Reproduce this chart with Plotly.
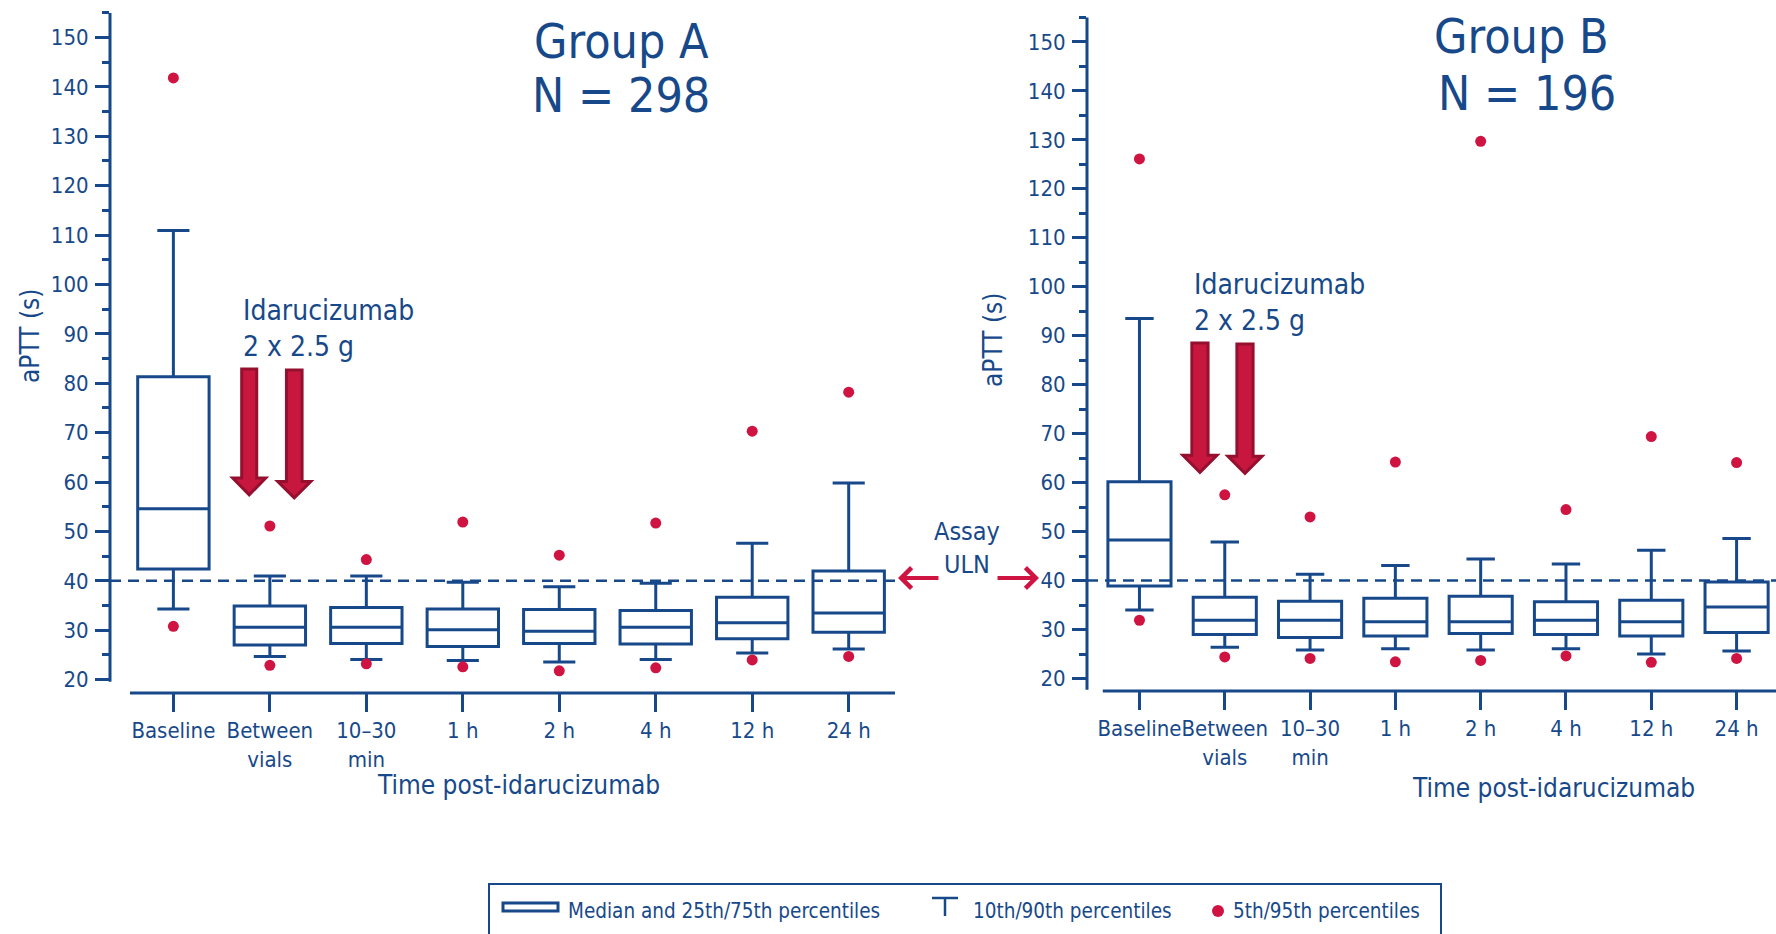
import plotly.graph_objects as go

# Sampling times after idarucizumab
categories = ["Baseline", "Between vials", "10–30 min", "1 h", "2 h", "4 h", "12 h", "24 h"]
tick_labels = ["Baseline", "Between<br>vials", "10–30<br>min", "1 h", "2 h", "4 h", "12 h", "24 h"]

# Group A (N = 298): aPTT percentiles (s)
a_p5 = [30.8, 22.9, 23.2, 22.6, 21.8, 22.4, 24.0, 24.7]
a_p10 = [34.3, 24.7, 24.1, 23.9, 23.6, 24.1, 25.4, 26.2]
a_q1 = [42.4, 27.0, 27.3, 26.7, 27.3, 27.2, 28.3, 29.6]
a_med = [54.6, 30.6, 30.6, 30.1, 29.8, 30.6, 31.5, 33.5]
a_q3 = [81.3, 34.9, 34.6, 34.3, 34.2, 34.0, 36.7, 42.0]
a_p90 = [110.9, 41.0, 41.0, 39.7, 38.8, 39.5, 47.6, 59.8]
a_p95 = [141.8, 51.1, 44.3, 51.9, 45.2, 51.7, 70.3, 78.2]

# Group B (N = 196): aPTT percentiles (s)
b_p5 = [31.9, 24.4, 24.1, 23.4, 23.7, 24.6, 23.3, 24.1]
b_p10 = [34.0, 26.4, 25.8, 26.1, 25.8, 26.1, 25.0, 25.6]
b_q1 = [38.9, 29.0, 28.4, 28.7, 29.2, 29.0, 28.7, 29.4]
b_med = [48.3, 31.9, 31.9, 31.6, 31.6, 31.9, 31.6, 34.6]
b_q3 = [60.2, 36.6, 35.8, 36.4, 36.8, 35.7, 36.0, 39.7]
b_p90 = [93.5, 47.9, 41.3, 43.1, 44.4, 43.4, 46.2, 48.6]
b_p95 = [126.1, 57.5, 53.0, 64.2, 129.7, 54.5, 69.4, 64.1]

# Assay upper limit of normal (s)
uln = 40

BLUE = "#17498a"
RED = "#cf1442"
ARROW_FILL = "#c8173f"
ARROW_EDGE = "#95102f"
FONT = "DejaVu Sans Condensed, DejaVu Sans, sans-serif"
W, H = 1776, 934


def px_x(px):
    return px / W


def px_y(py):
    return 1 - py / H


x_pos = list(range(len(categories)))

fig = go.Figure()

panels = [
    dict(ax="", q1=a_q1, med=a_med, q3=a_q3, lo=a_p10, hi=a_p90, p5=a_p5, p95=a_p95),
    dict(ax="2", q1=b_q1, med=b_med, q3=b_q3, lo=b_p10, hi=b_p90, p5=b_p5, p95=b_p95),
]

for p in panels:
    xa, ya = "x" + p["ax"], "y" + p["ax"]
    fig.add_trace(go.Box(
        x=x_pos, q1=p["q1"], median=p["med"], q3=p["q3"],
        lowerfence=p["lo"], upperfence=p["hi"],
        width=0.74, whiskerwidth=0.45, boxpoints=False,
        line=dict(color=BLUE, width=3), fillcolor="rgba(0,0,0,0)",
        xaxis=xa, yaxis=ya, showlegend=False, hoverinfo="skip",
    ))
    fig.add_trace(go.Scatter(
        x=x_pos + x_pos, y=p["p5"] + p["p95"], mode="markers",
        marker=dict(color=RED, size=11),
        xaxis=xa, yaxis=ya, showlegend=False, hoverinfo="skip",
    ))

yaxis_common = dict(
    tick0=20, dtick=10, ticks="outside", ticklen=14, tickwidth=3, tickcolor=BLUE,
    minor=dict(dtick=5, tick0=20, ticks="outside", ticklen=7, tickwidth=2.5, tickcolor=BLUE),
    showgrid=False, zeroline=False, showline=False,
    tickfont=dict(family=FONT, size=22, color=BLUE), ticklabelstandoff=2,
)
xaxis_common = dict(
    tickmode="array", tickvals=x_pos, ticktext=tick_labels, tickangle=0,
    ticks="outside", ticklen=18, tickwidth=3, tickcolor=BLUE,
    showgrid=False, zeroline=False, showline=False,
    tickfont=dict(family=FONT, size=22, color=BLUE),
)

fig.update_layout(
    width=W, height=H, margin=dict(l=0, r=0, t=0, b=0),
    paper_bgcolor="white", plot_bgcolor="white",
    xaxis=dict(xaxis_common, domain=[px_x(110), px_x(895)], range=[-0.657, 7.48], anchor="y"),
    yaxis=dict(yaxis_common, domain=[px_y(693), px_y(12.7)], range=[17.3, 155], anchor="x"),
    xaxis2=dict(xaxis_common, domain=[px_x(1087), 1.0], range=[-0.615, 7.462], anchor="y2"),
    yaxis2=dict(yaxis_common, domain=[px_y(691), px_y(16.9)], range=[17.45, 155.1], anchor="x2"),
)

shapes = []
# axis lines, detached from each other
for ax, y_bottom, x_start in [("", 19.6, -0.45), ("2", 17.7, -0.43)]:
    xa, ya = "x" + ax, "y" + ax
    shapes.append(dict(type="line", xref=f"{xa} domain", yref=ya, x0=0, x1=0,
                       y0=y_bottom, y1=155, line=dict(color=BLUE, width=3)))
    shapes.append(dict(type="line", xref=xa, yref=f"{ya} domain", x0=x_start, x1=7.6,
                       y0=0, y1=0, line=dict(color=BLUE, width=3)))
    shapes.append(dict(type="line", xref=f"{xa} domain", yref=ya, x0=0, x1=1.01,
                       y0=uln, y1=uln, layer="below",
                       line=dict(color=BLUE, width=2.5, dash="11px,7px")))


def down_arrow(xc, y_top, y_head, y_tip, half_shaft, half_head):
    return (f"M{xc - half_shaft},{y_top} L{xc + half_shaft},{y_top} "
            f"L{xc + half_shaft},{y_head} L{xc + half_head},{y_head} L{xc},{y_tip} "
            f"L{xc - half_head},{y_head} L{xc - half_shaft},{y_head} Z")


# idarucizumab dosing arrows (two vials)
dose_arrows = [
    ("", 0.786, 82.9, 60.8, 57.4, 0.078, 0.171),
    ("", 1.253, 82.7, 60.1, 56.8, 0.081, 0.171),
    ("2", 0.709, 88.5, 65.6, 62.1, 0.095, 0.200),
    ("2", 1.237, 88.3, 65.4, 61.9, 0.095, 0.200),
]
for ax, xc, yt, yh, ytip, hs, hh in dose_arrows:
    shapes.append(dict(type="path", xref="x" + ax, yref="y" + ax,
                       path=down_arrow(xc, yt, yh, ytip, hs, hh),
                       fillcolor=ARROW_FILL, line=dict(color=ARROW_EDGE, width=3)))

# legend frame and symbols
shapes.append(dict(type="rect", xref="paper", yref="paper",
                   x0=px_x(489), x1=px_x(1441), y0=px_y(884), y1=px_y(960),
                   line=dict(color=BLUE, width=2)))
shapes.append(dict(type="rect", xref="paper", yref="paper",
                   x0=px_x(503), x1=px_x(558), y0=px_y(903), y1=px_y(911),
                   line=dict(color=BLUE, width=3)))
shapes.append(dict(type="line", xref="paper", yref="paper",
                   x0=px_x(932), x1=px_x(958), y0=px_y(898), y1=px_y(898),
                   line=dict(color=BLUE, width=2.5)))
shapes.append(dict(type="line", xref="paper", yref="paper",
                   x0=px_x(945), x1=px_x(945), y0=px_y(898), y1=px_y(916),
                   line=dict(color=BLUE, width=2.5)))
shapes.append(dict(type="circle", xref="paper", yref="paper",
                   x0=px_x(1212), x1=px_x(1224), y0=px_y(905), y1=px_y(917),
                   fillcolor=RED, line=dict(width=0)))

fig.update_layout(shapes=shapes)


def text(s, x, y, size, xanchor="center", yanchor="middle", angle=0, align="center"):
    return dict(text=s, x=x, y=y, xref="paper", yref="paper", showarrow=False,
                xanchor=xanchor, yanchor=yanchor, textangle=angle, align=align,
                font=dict(family=FONT, size=size, color=BLUE))


annotations = [
    text("Group A", px_x(621), px_y(41), 48),
    text("N = 298", px_x(621), px_y(95), 48),
    text("Group B", px_x(1521), px_y(36), 48),
    text("N = 196", px_x(1527), px_y(93), 48),
    text("aPTT (s)", px_x(30), px_y(336), 26, angle=-90),
    text("aPTT (s)", px_x(993), px_y(340), 26, angle=-90),
    text("Time post-idarucizumab", px_x(518), px_y(785), 26),
    text("Time post-idarucizumab", px_x(1553), px_y(788), 26),
    text("Idarucizumab<br>2 x 2.5 g", px_x(241), px_y(292), 28, xanchor="left",
         yanchor="top", align="left"),
    text("Idarucizumab<br>2 x 2.5 g", px_x(1192), px_y(266), 28, xanchor="left",
         yanchor="top", align="left"),
    text("Assay<br>ULN", px_x(967), px_y(548), 25),
    text("Median and 25th/75th percentiles", px_x(566), px_y(911), 20.5, xanchor="left"),
    text("10th/90th percentiles", px_x(971), px_y(911), 20.5, xanchor="left"),
    text("5th/95th percentiles", px_x(1231), px_y(911), 20.5, xanchor="left"),
]

# arrows pointing from the ULN label to each dashed line
for tip, tail in [(898, 940), (1039, 996)]:
    annotations.append(dict(
        x=px_x(tip), y=px_y(578), xref="paper", yref="paper",
        ax=tail - tip, ay=0, text="", showarrow=True,
        arrowhead=4, arrowsize=1, arrowwidth=4, arrowcolor=RED,
    ))

fig.update_layout(annotations=annotations)

fig.write_html("out.html")
